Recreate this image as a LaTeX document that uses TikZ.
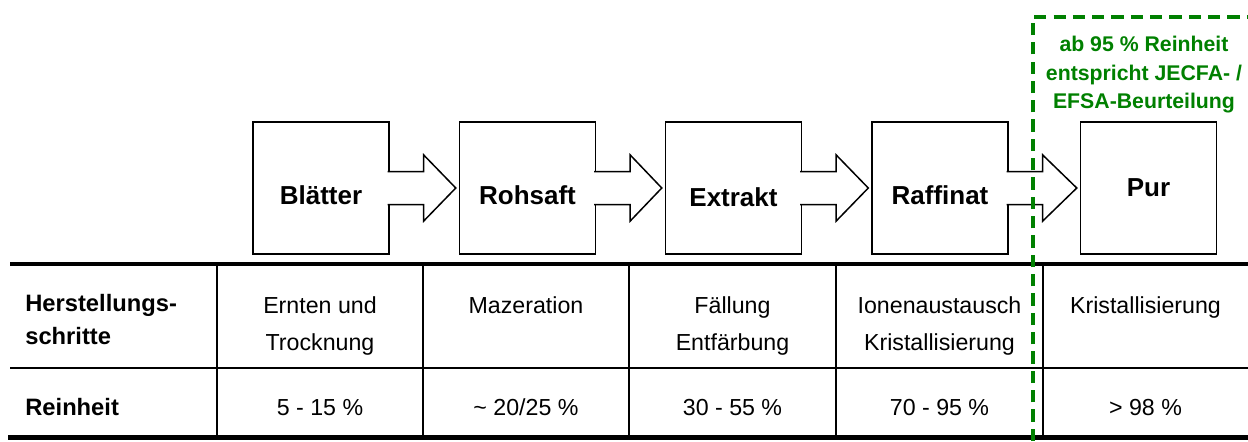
\documentclass[tikz,border=0pt]{standalone}
\usepackage{fontspec}
\setmainfont{Liberation Sans}
\usetikzlibrary{calc}
\definecolor{efsagruen}{RGB}{0,128,0}
\tikzset{
  stufe/.style={draw, line width=0.85pt, minimum width=2.72cm, minimum height=2.64cm, inner sep=0pt},
  stufetext/.style={font=\fontsize{14.8}{17}\selectfont\bfseries, inner sep=0pt},
  pfeil/.style={draw, fill=white, line width=0.85pt, line join=miter},
  zelle/.style={font=\fontsize{13.2}{21}\selectfont, align=center, inner sep=0pt},
  kopf/.style={font=\fontsize{13.5}{19}\selectfont\bfseries, align=left, inner sep=0pt},
  dick/.style={line width=2.5pt},
  duenn/.style={line width=0.75pt}
}
\begin{document}
\begin{tikzpicture}[x=0.02cm, y=-0.02cm]
  \useasboundingbox (0,0) rectangle (1248,441);
  % Stufen
  \draw
    (321,188) node[stufe] (blatt){}
    (527.5,188) node[stufe] (rohsaft){}
    (733.5,188) node[stufe] (extrakt){}
    (940,188) node[stufe] (raffinat){}
    (1148.5,188) node[stufe] (pur){};
  \node[stufetext, yshift=-4pt] (blatt-t) at (blatt.center) {Blätter};
  \node[stufetext, yshift=-4pt] (rohsaft-t) at (rohsaft.center) {Rohsaft};
  \node[stufetext, yshift=-5.5pt] (extrakt-t) at (extrakt.center) {Extrakt};
  \node[stufetext, yshift=-4pt] (raffinat-t) at (raffinat.center) {Raffinat};
  \node[stufetext] (pur-t) at (pur.center) {Pur};
  % Pfeile
  \foreach \a/\b in {blatt/rohsaft,rohsaft/extrakt,extrakt/raffinat,raffinat/pur}
    \path[pfeil] ($(\a.east)+(-2,-16.5)$) -- ++(36,0) -- ++(0,-16.5)
      -- ($(\b.west)+(-3,0)$) -- ($(\a.east)+(34,33)$) -- ++(0,-16.5)
      -- ($(\a.east)+(-2,16.5)$);
  % Tabelle
  \draw[dick] (10,264) -- (1248,264);
  \draw[duenn] (10,368) -- (1248,368);
  \draw[dick] (8,437.5) -- (1248,437.5);
  \foreach \x in {217,423,629,836,1043}
    \draw[duenn] (\x,264) -- (\x,437.5);
  \node[kopf, anchor=north west] (kopf-schritte) at (25,294) {Herstellungs-\\schritte};
  \node[kopf, anchor=base west] (kopf-reinheit) at (25,415) {Reinheit};
  \begin{scope}[every node/.append style={zelle, anchor=north}]
    \node (ernte) at (320,296) {Ernten und\\Trocknung};
    \node (mazeration) at (526,296) {Mazeration};
    \node (faellung) at (732.5,296) {Fällung\\Entfärbung};
    \node (ionen) at (939.5,296) {Ionenaustausch\\Kristallisierung};
    \node (kristall) at (1145.5,296) {Kristallisierung};
  \end{scope}
  \begin{scope}[every node/.append style={zelle, anchor=base}]
    \node (rein-blatt) at (320,415) {5 - 15 \%};
    \node (rein-rohsaft) at (526,415) {\textasciitilde{} 20/25 \%};
    \node (rein-extrakt) at (732.5,415) {30 - 55 \%};
    \node (rein-raffinat) at (939.5,415) {70 - 95 \%};
    \node (rein-pur) at (1145.5,415) {> 98 \%};
  \end{scope}
  % Grenze 95 %
  \draw[efsagruen, line width=2pt, dash pattern=on 7pt off 4pt] (1033,441) -- (1033,17) -- (1260,17);
  \node[font=\fontsize{12.1}{16.2}\selectfont\bfseries, text=efsagruen, align=center,
    anchor=north, inner sep=0pt] (hinweis) at (1144,36)
    {ab 95 \% Reinheit\\entspricht JECFA- /\\EFSA-Beurteilung};
\end{tikzpicture}
\end{document}
